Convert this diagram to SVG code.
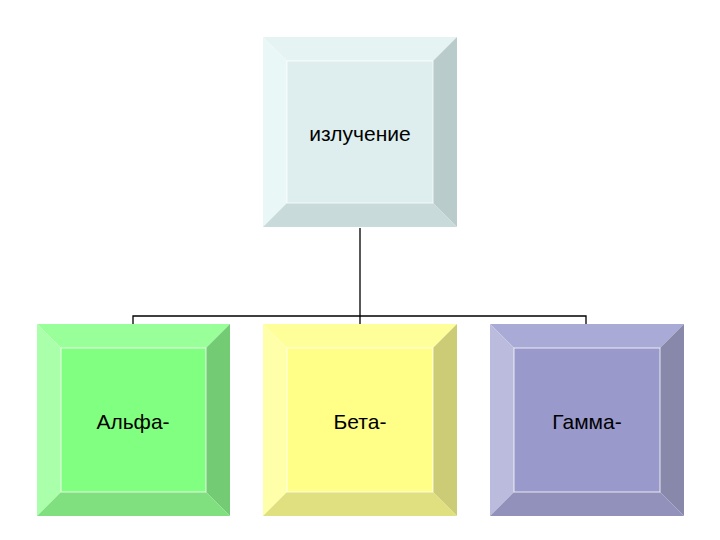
<svg xmlns="http://www.w3.org/2000/svg" width="720" height="540" viewBox="0 0 720 540">
<style>
.lbl{font-family:"Liberation Sans",Arial,sans-serif;font-size:21px;fill:#000;text-anchor:middle;dominant-baseline:central}
.conn{stroke:#000;stroke-width:1.3;fill:none}
.edge{stroke:#ffffff;stroke-width:1;stroke-opacity:0.8}
</style>
<rect width="720" height="540" fill="#fff"/>
<g id="connectors">
<path class="conn" d="M360 228V316M133 324V316H586V324M360 316V324"/>
</g>
<g id="node-izluchenie">
<polygon points="263,37 457,37 433,61 287,61" fill="#e6f3f3"/>
<polygon points="263,37 287,61 287,203 263,227" fill="#eaf7f7"/>
<polygon points="457,37 457,227 433,203 433,61" fill="#b9cccb"/>
<polygon points="263,227 287,203 433,203 457,227" fill="#c8dada"/>
<rect x="287" y="61" width="146" height="142" fill="#deeded" class="edge"/>
<text class="lbl" x="360" y="133">излучение</text>
</g>
<g id="node-alpha">
<polygon points="37,324 230,324 206,348 61,348" fill="#99ff99"/>
<polygon points="37,324 61,348 61,492 37,516" fill="#aaffaa"/>
<polygon points="230,324 230,516 206,492 206,348" fill="#73cc73"/>
<polygon points="37,516 61,492 206,492 230,516" fill="#80e080"/>
<rect x="61" y="348" width="145" height="144" fill="#80ff80" class="edge"/>
<text class="lbl" x="133" y="421">Альфа-</text>
</g>
<g id="node-beta">
<polygon points="263,324 457,324 433,348 287,348" fill="#ffff99"/>
<polygon points="263,324 287,348 287,492 263,516" fill="#ffffaa"/>
<polygon points="457,324 457,516 433,492 433,348" fill="#cccc77"/>
<polygon points="263,516 287,492 433,492 457,516" fill="#e0e080"/>
<rect x="287" y="348" width="146" height="144" fill="#ffff88" class="edge"/>
<text class="lbl" x="360" y="421">Бета-</text>
</g>
<g id="node-gamma">
<polygon points="490,324 684,324 660,348 514,348" fill="#aaaad6"/>
<polygon points="490,324 514,348 514,492 490,516" fill="#bbbbdd"/>
<polygon points="684,324 684,516 660,492 660,348" fill="#8888aa"/>
<polygon points="490,516 514,492 660,492 684,516" fill="#9191bb"/>
<rect x="514" y="348" width="146" height="144" fill="#9999cc" class="edge"/>
<text class="lbl" x="587" y="421">Гамма-</text>
</g>
</svg>
